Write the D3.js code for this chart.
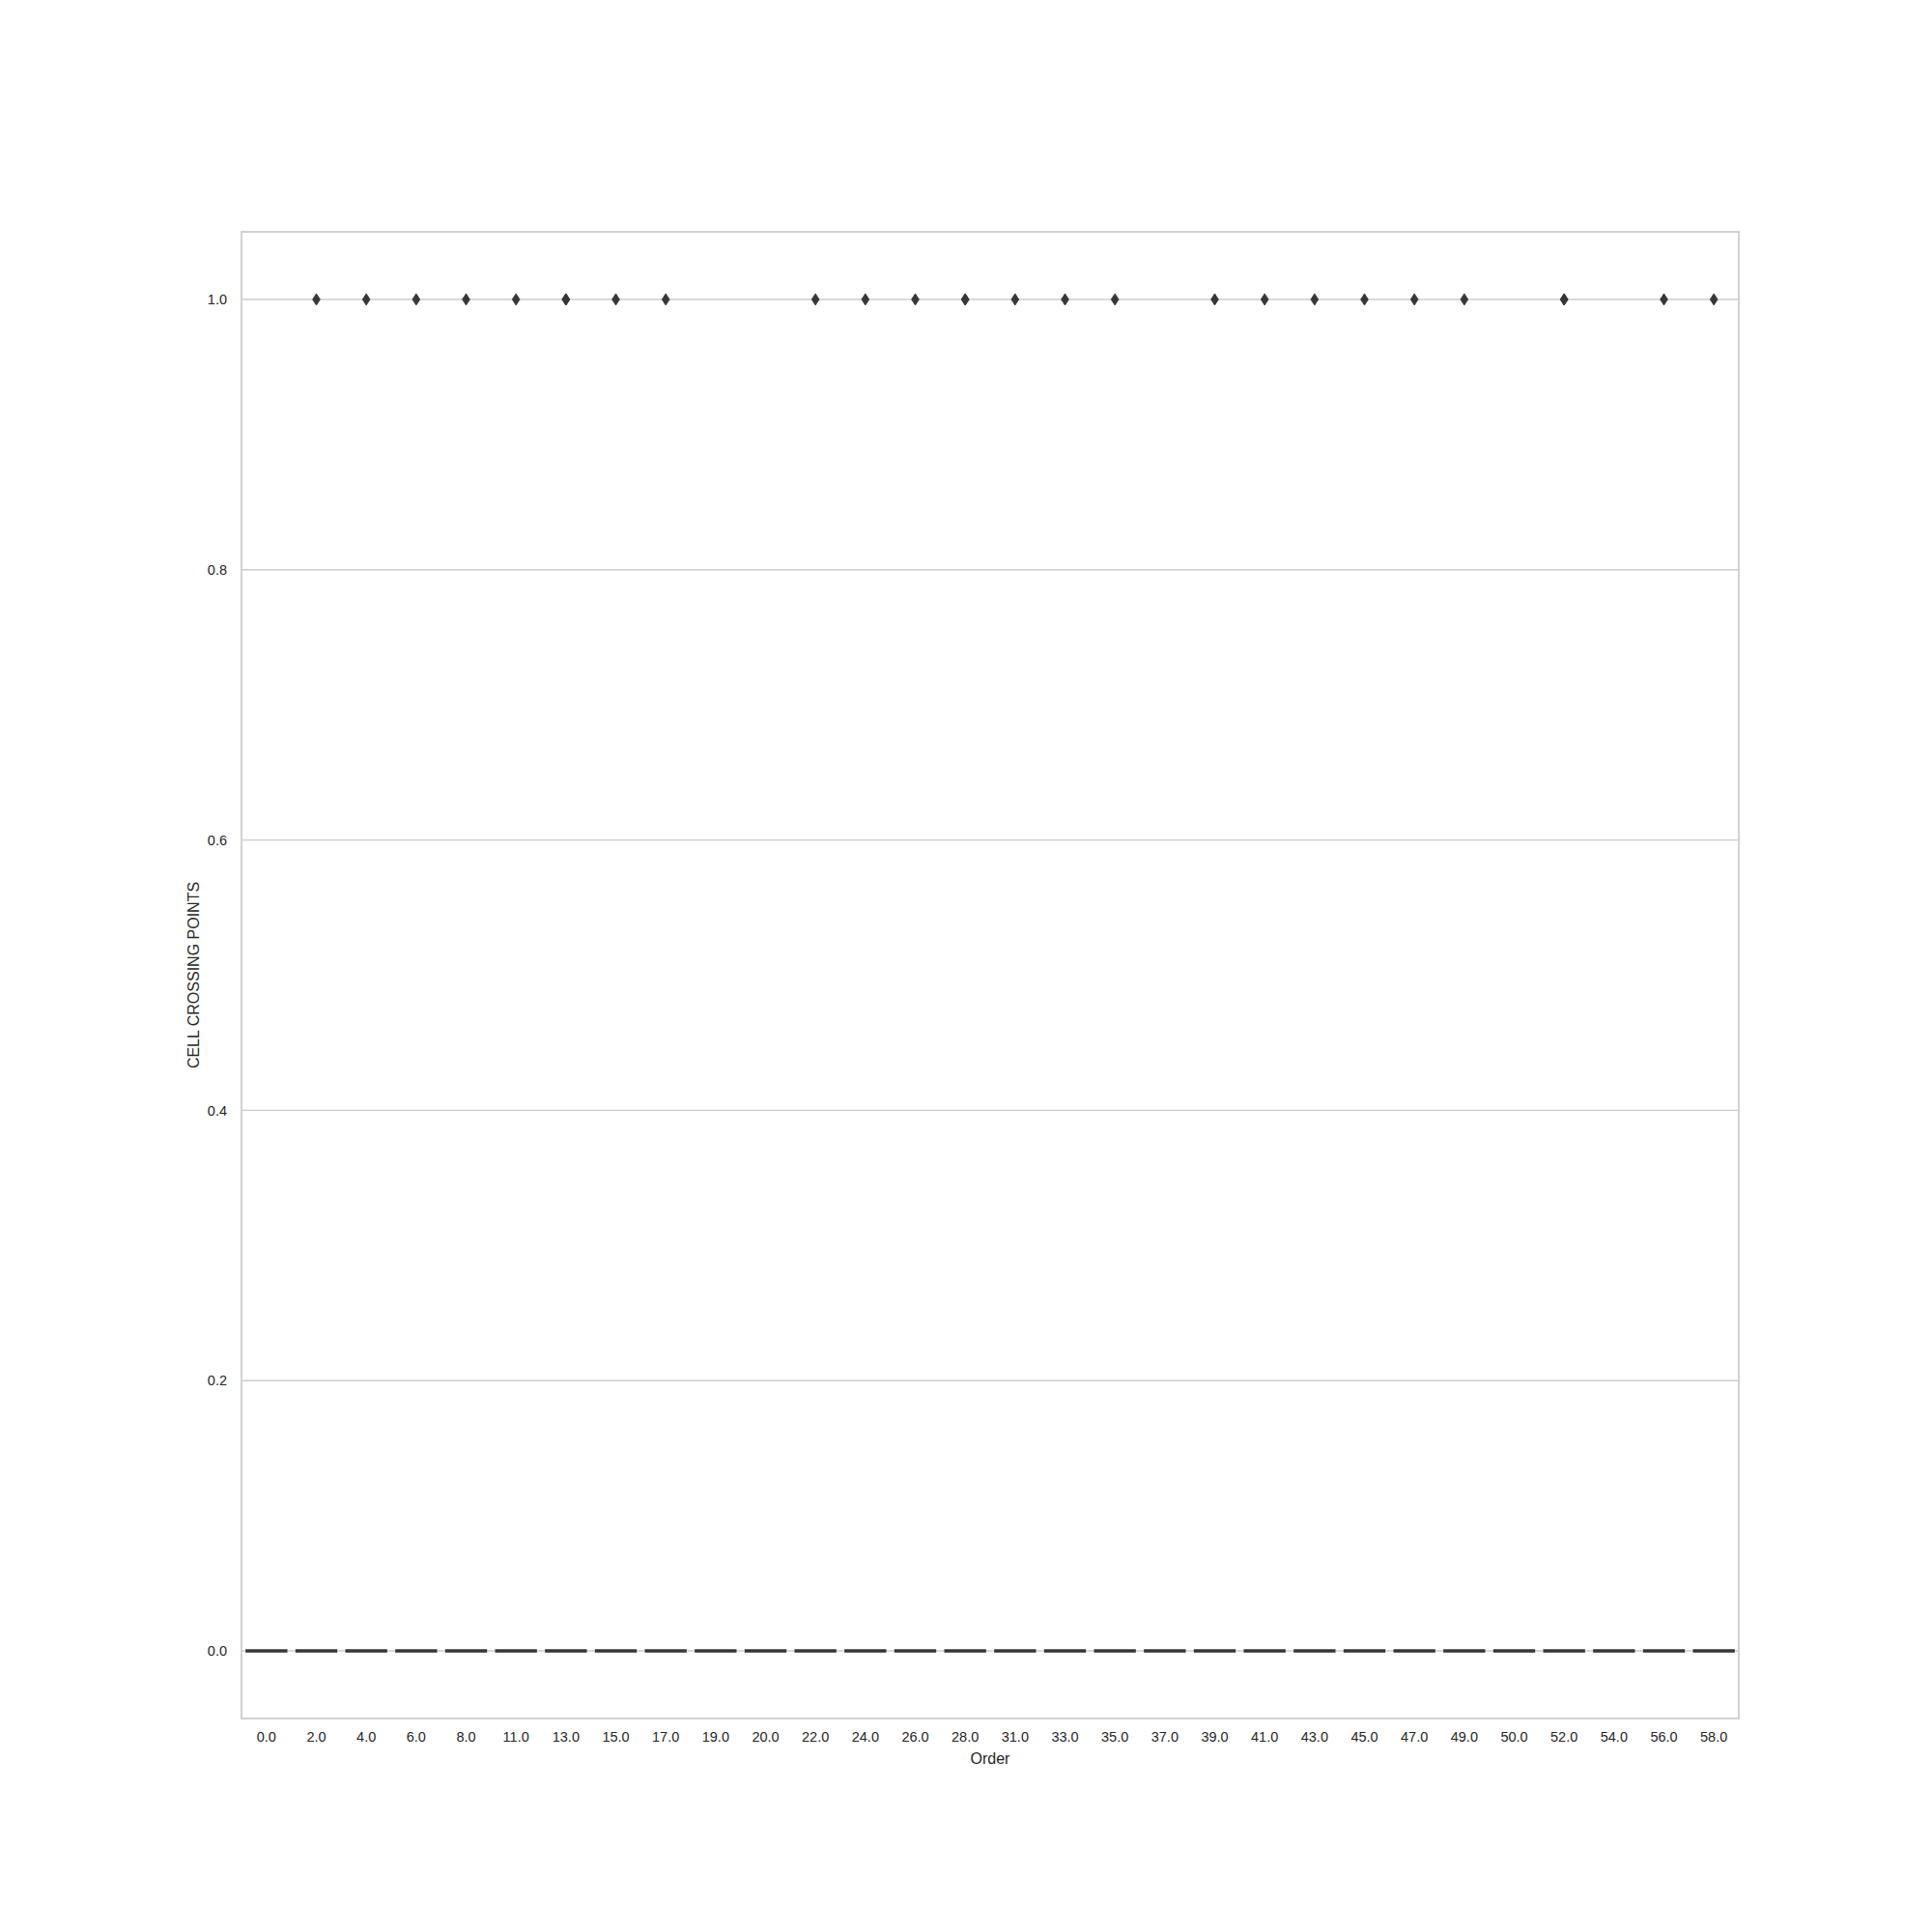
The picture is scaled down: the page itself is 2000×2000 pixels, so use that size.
<!DOCTYPE html>
<html>
<head>
<meta charset="utf-8">
<script src="https://cdn.jsdelivr.net/npm/d3@7"></script>
<style>
  html, body { margin: 0; padding: 0; background: #ffffff; }
  svg text { font-family: "Liberation Sans", Arial, sans-serif; fill: #262626; }
</style>
</head>
<body>
<svg id="chart" width="2000" height="2000"></svg>
<script>
// ---- data ----
const orders = ["0.0","2.0","4.0","6.0","8.0","11.0","13.0","15.0","17.0","19.0",
                "20.0","22.0","24.0","26.0","28.0","31.0","33.0","35.0","37.0","39.0",
                "41.0","43.0","45.0","47.0","49.0","50.0","52.0","54.0","56.0","58.0"];
// box statistics per category (all degenerate at 0)
const q1      = [0,0,0,0,0,0,0,0,0,0, 0,0,0,0,0,0,0,0,0,0, 0,0,0,0,0,0,0,0,0,0];
const medians = [0,0,0,0,0,0,0,0,0,0, 0,0,0,0,0,0,0,0,0,0, 0,0,0,0,0,0,0,0,0,0];
const q3      = [0,0,0,0,0,0,0,0,0,0, 0,0,0,0,0,0,0,0,0,0, 0,0,0,0,0,0,0,0,0,0];
const whiskLo = [0,0,0,0,0,0,0,0,0,0, 0,0,0,0,0,0,0,0,0,0, 0,0,0,0,0,0,0,0,0,0];
const whiskHi = [0,0,0,0,0,0,0,0,0,0, 0,0,0,0,0,0,0,0,0,0, 0,0,0,0,0,0,0,0,0,0];
// outliers per category
const fliers = [[],[1],[1],[1],[1],[1],[1,1],[1],[1],[],
                [],[1],[1],[1],[1,1],[1],[1],[1],[],[1],
                [1],[1],[1],[1],[1],[],[1,1],[],[1],[1]];
const yTicks = [0.0, 0.2, 0.4, 0.6, 0.8, 1.0];
const xTitle = "Order";
const yTitle = "CELL CROSSING POINTS";

// ---- layout ----
const L = 250, R = 1800, T = 240, B = 1779;
const svg = d3.select("#chart");

const x = d3.scaleBand().domain(orders).range([L, R]).padding(0);
const y = d3.scaleLinear().domain([-0.05, 1.05]).range([B, T]);

// grid
svg.append("g").selectAll("line").data(yTicks).join("line")
  .attr("x1", L).attr("x2", R)
  .attr("y1", d => y(d)).attr("y2", d => y(d))
  .attr("stroke", "#cccccc").attr("stroke-width", 1.4);

// frame
svg.append("rect").attr("x", L).attr("y", T)
  .attr("width", R - L).attr("height", B - T)
  .attr("fill", "none").attr("stroke", "#cccccc").attr("stroke-width", 1.75);

// axes
const yAxis = svg.append("g").attr("transform", `translate(${L},0)`)
  .call(d3.axisLeft(y).tickValues(yTicks).tickFormat(d3.format(".1f")).tickSize(0).tickPadding(15));
yAxis.select(".domain").remove();
yAxis.selectAll("text").style("font-size", "14.5px").style("fill", "#262626");

const xAxis = svg.append("g").attr("transform", `translate(0,${B})`)
  .call(d3.axisBottom(x).tickSize(0).tickPadding(14));
xAxis.select(".domain").remove();
xAxis.selectAll("text").style("font-size", "14.5px").style("fill", "#262626");

// boxes
const bw = x.bandwidth() * 0.8;
const boxColor = "#363636";
const g = svg.append("g");
orders.forEach((o, i) => {
  const cx = x(o) + x.bandwidth() / 2;
  // whiskers
  g.append("line").attr("x1", cx).attr("x2", cx)
    .attr("y1", y(whiskLo[i])).attr("y2", y(q1[i]))
    .attr("stroke", boxColor).attr("stroke-width", 1.75);
  g.append("line").attr("x1", cx).attr("x2", cx)
    .attr("y1", y(q3[i])).attr("y2", y(whiskHi[i]))
    .attr("stroke", boxColor).attr("stroke-width", 1.75);
  // box
  g.append("rect").attr("x", cx - bw / 2).attr("y", y(q3[i]))
    .attr("width", bw).attr("height", Math.max(0, y(q1[i]) - y(q3[i])))
    .attr("fill", "none").attr("stroke", boxColor).attr("stroke-width", 1.75);
  // median
  g.append("line").attr("x1", cx - bw / 2 - 1).attr("x2", cx + bw / 2 + 1)
    .attr("y1", y(medians[i])).attr("y2", y(medians[i]))
    .attr("stroke", boxColor).attr("stroke-width", 3.4);
  // fliers
  fliers[i].forEach(v => {
    const py = y(v);
    g.append("path")
      .attr("d", `M${cx},${py - 6} L${cx + 3.9},${py} L${cx},${py + 6} L${cx - 3.9},${py} Z`)
      .attr("fill", boxColor).attr("stroke", boxColor).attr("stroke-width", 0.8);
  });
});

// titles
svg.append("text").attr("x", (L + R) / 2).attr("y", 1826)
  .attr("text-anchor", "middle").style("font-size", "16px").text(xTitle);
svg.append("text")
  .attr("transform", `translate(206,${(T + B) / 2}) rotate(-90)`)
  .attr("text-anchor", "middle").style("font-size", "16px").text(yTitle);
</script>
</body>
</html>
